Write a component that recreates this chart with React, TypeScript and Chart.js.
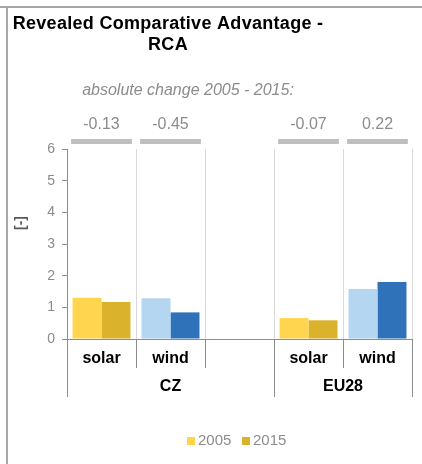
import React, { useEffect, useRef } from "react";
import { Chart, registerables } from "chart.js";

Chart.register(...registerables);

const categories = ["solar", "wind", "", "solar", "wind"];
const groups = ["CZ", "EU28"];
const groupSpans = [[0, 2], [3, 4]];
const values2005 = [1.3, 1.29, null, 0.66, 1.58];
const values2015 = [1.17, 0.84, null, 0.59, 1.8];
const changes = ["-0.13", "-0.45", "", "-0.07", "0.22"];
const colors2005 = ["#FFD54F", "#B4D6F0", "#FFD54F", "#FFD54F", "#B4D6F0"];
const colors2015 = ["#DAB22B", "#2F72B9", "#DAB22B", "#DAB22B", "#2F72B9"];
const legendLabels = ["2005", "2015"];
const legendColors = ["#FFD54F", "#DAB22B"];
const yTicksMax = 6;

const FONT = "'Liberation Sans', Arial, sans-serif";

const overlay = {
  id: "overlay",
  afterDraw(chart: any) {
    const ctx = chart.ctx;
    const xs = chart.scales.x;
    const area = chart.chartArea;
    const W = chart.width;
    const H = chart.height;
    ctx.save();
    // outer frame
    ctx.strokeStyle = "#A6A6A6";
    ctx.lineWidth = 2;
    ctx.beginPath();
    ctx.moveTo(0, 7);
    ctx.lineTo(W, 7);
    ctx.moveTo(7, 7);
    ctx.lineTo(7, H);
    ctx.stroke();

    // title
    ctx.fillStyle = "#000";
    ctx.textAlign = "center";
    ctx.textBaseline = "middle";
    ctx.font = "bold 18px " + FONT;
    (ctx as any).letterSpacing = "0.3px";
    ctx.fillText("Revealed Comparative Advantage -", 168, 24);
    ctx.fillText("RCA", 168, 45);
    (ctx as any).letterSpacing = "0px";

    // subtitle
    ctx.fillStyle = "#8C8C8C";
    ctx.font = "italic 16px " + FONT;
    ctx.fillText("absolute change 2005 - 2015:", 188, 91);

    // change labels + gray bars
    const slot = xs.getPixelForValue(1) - xs.getPixelForValue(0);
    categories.forEach((c, i) => {
      if (!changes[i]) return;
      const cx = xs.getPixelForValue(i);
      ctx.fillStyle = "#8C8C8C";
      ctx.font = "16px " + FONT;
      ctx.fillText(changes[i], cx, 125);
      ctx.fillStyle = "#BFBFBF";
      const bw = slot * 0.88;
      ctx.fillRect(cx - bw / 2, 139, bw, 5);
    });

    // tick extensions below the axis
    ctx.strokeStyle = "#8C8C8C";
    ctx.lineWidth = 1;
    const longIdx = new Set<number>();
    groupSpans.forEach((g) => {
      longIdx.add(g[0]);
      longIdx.add(g[1] + 1);
    });
    for (let b = 0; b <= categories.length; b++) {
      const x = Math.round(xs.getPixelForValue(b - 0.5)) + 0.5;
      const len = longIdx.has(b) ? 58 : 29;
      ctx.beginPath();
      ctx.moveTo(x, area.bottom);
      ctx.lineTo(x, area.bottom + len);
      ctx.stroke();
    }

    // group labels
    ctx.fillStyle = "#000";
    ctx.font = "bold 16px " + FONT;
    groups.forEach((g, k) => {
      const x0 = xs.getPixelForValue(groupSpans[k][0] - 0.5);
      const x1 = xs.getPixelForValue(groupSpans[k][1] + 0.5);
      ctx.fillText(g, (x0 + x1) / 2, area.bottom + 48);
    });

    // y-axis title
    ctx.save();
    ctx.translate(21, 223);
    ctx.rotate(-Math.PI / 2);
    ctx.fillStyle = "#595959";
    ctx.font = "bold 14px " + FONT;
    ctx.fillText("[-]", 0, 0);
    ctx.restore();

    // legend
    ctx.font = "15px " + FONT;
    ctx.textAlign = "left";
    let lx = 187;
    legendLabels.forEach((l, i) => {
      ctx.fillStyle = legendColors[i];
      ctx.fillRect(lx, 437, 8, 8);
      ctx.fillStyle = "#8C8C8C";
      ctx.fillText(l, lx + 11, 441);
      lx += 55;
    });
    ctx.restore();
  },
};

export default function App() {
  const ref = useRef<HTMLCanvasElement>(null);
  useEffect(() => {
    if (!ref.current) return;
    const chart = new Chart(ref.current, {
      type: "bar",
      data: {
        labels: categories,
        datasets: [
          { label: "2005", data: values2005 as any, backgroundColor: colors2005 },
          { label: "2015", data: values2015 as any, backgroundColor: colors2015 },
        ],
      },
      options: {
        animation: false,
        responsive: true,
        maintainAspectRatio: false,
        layout: { padding: { top: 149, right: 10, bottom: 65, left: 0 } },
        plugins: { legend: { display: false }, title: { display: false }, tooltip: { enabled: false } },
        datasets: { bar: { categoryPercentage: 0.84, barPercentage: 1.0 } },
        scales: {
          x: {
            afterFit: (s: any) => { s.height = 60; },
            grid: { offset: true, color: "#D9D9D9", drawTicks: false },
            border: { color: "#8C8C8C" },
            ticks: { color: "#000", font: { family: FONT, size: 16, weight: "bold" }, padding: 10, maxRotation: 0, autoSkip: false },
          },
          y: {
            min: 0,
            max: yTicksMax,
            afterFit: (s: any) => { s.width = 67; },
            grid: { drawOnChartArea: false, drawTicks: true, tickLength: 5, color: "#8C8C8C" },
            border: { color: "#8C8C8C" },
            ticks: { stepSize: 1, color: "#8C8C8C", font: { family: FONT, size: 14 }, padding: 7 },
          },
        },
      },
      plugins: [overlay],
    });
    return () => chart.destroy();
  }, []);
  return (
    <div style={{ position: "fixed", left: 0, top: 0, width: 422, height: 464, background: "#fff" }}>
      <canvas ref={ref} />
    </div>
  );
}
